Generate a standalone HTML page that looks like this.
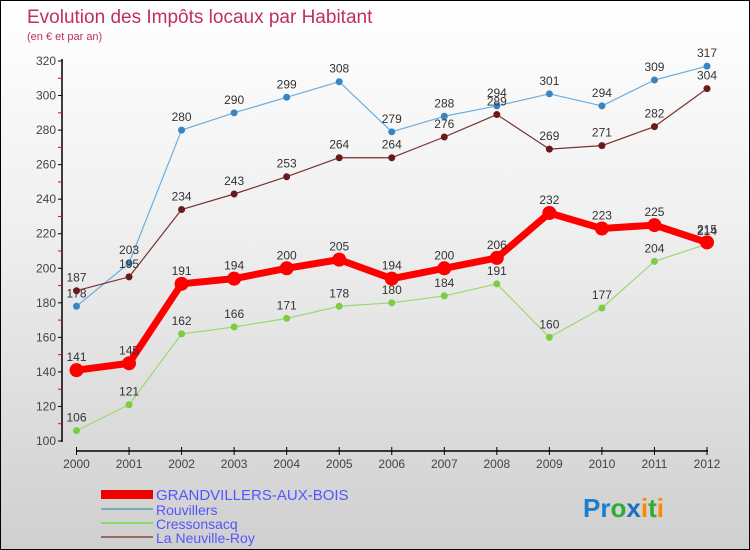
<!DOCTYPE html>
<html><head><meta charset="utf-8"><style>
body{margin:0}
#c{position:relative;width:748px;height:548px;border:1px solid #000;background:linear-gradient(#fff,#f0f0f0 40%,#cfcfcf);font-family:"Liberation Sans",sans-serif;overflow:hidden}
</style></head><body>
<div id="c">
<svg id="s" width="748" height="548" xmlns="http://www.w3.org/2000/svg">
<text x="26" y="22" font-size="19" fill="#c0305a">Evolution des Impôts locaux par Habitant</text>
<text x="26" y="39" font-size="11" fill="#c0305a">(en € et par an)</text>
<g id="g"></g>
<g>
<rect x="100" y="489" width="52" height="9" fill="#e00"/>
<text x="155" y="499" font-size="15" fill="#55f">GRANDVILLERS-AUX-BOIS</text>
<rect x="100" y="507" width="52" height="2" fill="#7ab"/>
<text x="155" y="514" font-size="14" fill="#55f">Rouvillers</text>
<rect x="100" y="521" width="52" height="2" fill="#8d6"/>
<text x="155" y="528" font-size="14" fill="#55f">Cressonsacq</text>
<rect x="100" y="535" width="52" height="2" fill="#966"/>
<text x="155" y="542" font-size="14" fill="#55f">La Neuville-Roy</text>
</g>
<text x="582" y="516" font-size="26" font-weight="bold"><tspan fill="#1a7fd0">Pr</tspan><tspan fill="#3a3">o</tspan><tspan fill="#1a6fc0">x</tspan><tspan fill="#f80">i</tspan><tspan fill="#3a3">t</tspan><tspan fill="#f80">i</tspan></text>
</svg>
</div>
<script>
const years=[2000,2001,2002,2003,2004,2005,2006,2007,2008,2009,2010,2011,2012];
const grandvillers=[141,145,191,194,200,205,194,200,206,232,223,225,215];
const rouvillers=[178,203,280,290,299,308,279,288,294,301,294,309,317];
const cressonsacq=[106,121,162,166,171,178,180,184,191,160,177,204,214];
const neuville=[187,195,234,243,253,264,264,276,289,269,271,282,304];
const yTicks=[100,120,140,160,180,200,220,240,260,280,300,320];
const NS="http://www.w3.org/2000/svg";
const g=document.getElementById('g');
const X=i=>75.5+i*(706-75.5)/(years.length-1);
const Y=v=>440-(v-100)*(380/220);
function mk(t,a,p){const e=document.createElementNS(NS,t);for(const k in a)e.setAttribute(k,a[k]);(p||g).appendChild(e);return e;}
let ya=mk('line',{x1:61,y1:58,x2:61,y2:441,stroke:'#000','stroke-width':1.5});


let xa=mk('line',{x1:75,y1:450,x2:707,y2:450,stroke:'#000','stroke-width':1.5});


yTicks.forEach((v,i)=>{
 mk('line',{x1:57,x2:61,y1:Y(v),y2:Y(v),stroke:'#000'});
 if(i<yTicks.length-1) mk('line',{x1:57,x2:61,y1:Y(v+10),y2:Y(v+10),stroke:'#e00'});
 const t=mk('text',{x:55,y:Y(v)+4,'font-size':12,'text-anchor':'end',fill:'#444'});t.textContent=v;
 
 
});
years.forEach((y,i)=>{
 mk('line',{x1:X(i),x2:X(i),y1:446,y2:454,stroke:'#000'});
 const t=mk('text',{x:X(i),y:467,'font-size':12,'text-anchor':'middle',fill:'#444'});t.textContent=y;
 
 
});
function series(data,color,dot,w,r,name){
 const sg=mk('g',{});
 
 
 mk('polyline',{points:data.map((v,i)=>X(i)+','+Y(v)).join(' '),fill:'none',stroke:color,'stroke-width':w,'stroke-linejoin':'round'},sg);
 data.forEach((v,i)=>{
  const c=mk('circle',{cx:X(i),cy:Y(v),r:r,fill:dot},sg);
  
  
  const t=mk('text',{x:X(i),y:Y(v)-9,'font-size':12,'text-anchor':'middle',fill:'#333'},sg);t.textContent=v;
 });
}
series(rouvillers,'#6aaee0','#3a85c0',1.2,3.5,'series-rouvillers');
series(neuville,'#7a3030','#6a1a1a',1.2,3.5,'series-la-neuville-roy');
series(cressonsacq,'#9ad870','#7ccc44',1.2,3.5,'series-cressonsacq');
series(grandvillers,'#f00','#f00',7,7,'series-grandvillers');
</script>
</body></html>
